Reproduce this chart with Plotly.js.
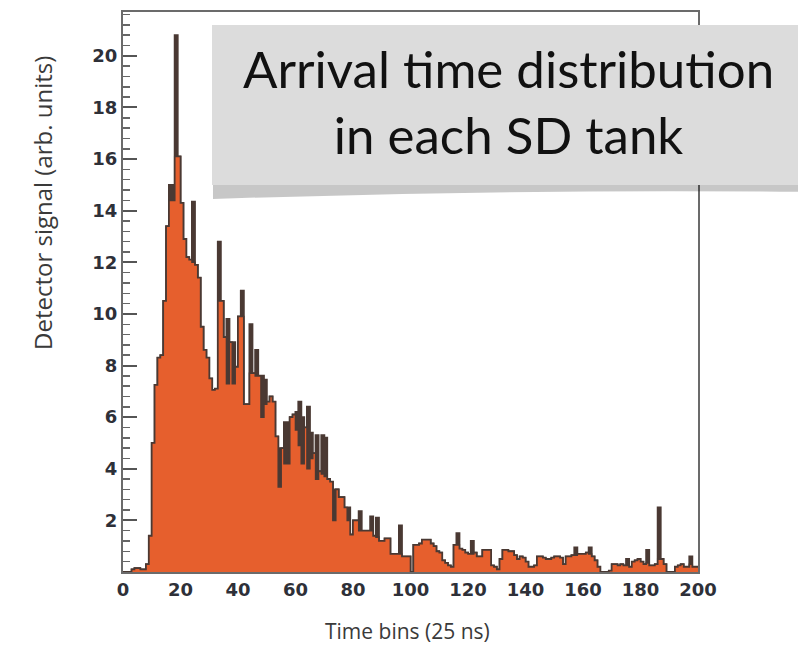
<!DOCTYPE html>
<html>
<head>
<meta charset="utf-8">
<script src="https://cdn.plot.ly/plotly-3.0.1.min.js"></script>
<style>
  html, body { margin: 0; padding: 0; background: #ffffff; }
  #chart { width: 798px; height: 663px; }
</style>
</head>
<body>
<div id="chart"></div>
<script>
// Time bins (left edge of each 25 ns bin)
const timeBins = Array.from({length: 200}, (_, i) => i);

// Filled (orange) histogram, per bin
const fillSignal = [
  0, 0, 0, 0.1, 0.15, 0.15, 0.1, 0.1, 0.3, 1.4,
  5.0, 7.25, 8.3, 8.4, 10.5, 13.4, 14.4, 14.4, 16.1, 16.1,
  14.3, 12.9, 12.2, 12.1, 12.0, 11.9, 11.4, 9.5, 8.6, 8.3,
  7.5, 7.05, 7.1, 10.5, 10.5, 9.1, 7.3, 8.9, 7.3, 7.95,
  9.9, 9.9, 6.5, 6.5, 7.7, 7.7, 7.6, 7.6, 6.0, 6.5,
  6.6, 6.8, 6.6, 5.25, 3.3, 4.8, 4.2, 4.2, 6.0, 6.1,
  5.5, 4.9, 4.2, 5.6, 4.0, 4.4, 4.6, 3.6, 3.9, 3.8,
  3.7, 3.6, 3.5, 2.0, 3.2, 2.9, 2.9, 2.5, 2.0, 1.45,
  2.0, 2.0, 1.6, 1.6, 1.6, 1.6, 1.6, 1.4, 1.35, 1.2,
  1.2, 1.3, 1.3, 0.7, 0.7, 0.7, 0.7, 0.6, 0.6, 0.6,
  0, 1.05, 1.05, 1.1, 1.25, 1.25, 1.25, 1.1, 1.0, 0.8,
  0.75, 0.45, 0.35, 0.25, 0.2, 1.05, 1.05, 0.9, 0.85, 0.75,
  0.7, 0.7, 0.75, 0.6, 0.6, 0.85, 0.85, 0.85, 0.25, 0.2,
  0.1, 0.5, 0.85, 0.85, 0.8, 0.8, 0.65, 0.5, 0.6, 0.55,
  0.4, 0.2, 0.2, 0.25, 0.6, 0.6, 0.55, 0.5, 0.5, 0.55,
  0.6, 0.6, 0.55, 0.3, 0.6, 0.6, 0.65, 0.65, 0.7, 0.7,
  0.7, 0.75, 0.7, 0.6, 0.45, 0.2, 0, 0, 0, 0.05,
  0.3, 0.3, 0.25, 0.3, 0.25, 0.25, 0.2, 0.4, 0.45, 0.5,
  0.4, 0.3, 0.35, 0.25, 0.25, 0.3, 0.5, 0.5, 0.3, 0,
  0, 0, 0.2, 0.25, 0.3, 0.2, 0.2, 0.3, 0.2, 0.2
];

// Outline (dark) histogram, per bin
const outlineSignal = [
  0, 0, 0, 0.1, 0.15, 0.15, 0.1, 0.1, 0.3, 1.4,
  5.0, 7.25, 8.3, 8.4, 10.5, 13.4, 15.0, 15.0, 20.8, 16.1,
  14.3, 12.9, 12.2, 12.1, 14.35, 11.9, 11.4, 9.5, 8.6, 8.3,
  7.5, 7.05, 7.1, 12.8, 10.5, 9.1, 9.8, 8.9, 8.9, 7.95,
  9.9, 10.9, 6.5, 6.5, 9.6, 7.7, 8.6, 7.6, 7.6, 7.45,
  6.6, 6.8, 6.6, 5.25, 4.8, 4.8, 5.8, 5.8, 6.0, 6.1,
  6.2, 6.6, 6.0, 5.6, 6.4, 5.4, 4.6, 5.3, 3.9, 5.3,
  5.2, 3.6, 3.5, 3.2, 3.2, 2.9, 2.9, 2.5, 2.5, 1.45,
  2.0, 2.0, 2.35, 1.6, 1.6, 1.6, 2.15, 1.4, 2.1, 1.2,
  1.2, 1.3, 1.3, 0.7, 0.7, 0.7, 1.8, 0.6, 0.6, 0.6,
  0, 1.05, 1.05, 1.1, 1.25, 1.25, 1.25, 1.1, 1.0, 0.8,
  0.75, 0.45, 0.35, 0.25, 0.2, 1.05, 1.5, 0.9, 0.85, 0.75,
  0.7, 1.2, 0.75, 0.6, 0.6, 0.85, 0.85, 0.85, 0.25, 0.2,
  0.1, 0.5, 0.85, 0.85, 0.8, 0.8, 0.65, 0.5, 0.6, 0.55,
  0.4, 0.2, 0.2, 0.25, 0.6, 0.6, 0.55, 0.5, 0.5, 0.55,
  0.6, 0.6, 0.55, 0.3, 0.6, 0.6, 0.65, 0.95, 0.7, 0.7,
  0.7, 0.75, 0.95, 0.6, 0.45, 0.2, 0, 0, 0, 0.05,
  0.3, 0.3, 0.25, 0.3, 0.25, 0.5, 0.2, 0.4, 0.45, 0.5,
  0.4, 0.3, 0.85, 0.25, 0.25, 0.3, 2.5, 0.5, 0.3, 0,
  0, 0, 0.2, 0.25, 0.3, 0.2, 0.2, 0.6, 0.2, 0.2
];

const xTickVals = [0, 20, 40, 60, 80, 100, 120, 140, 160, 180, 200];
const yTickVals = [2, 4, 6, 8, 10, 12, 14, 16, 18, 20];
// minor y ticks every 0.4
const yMinorTickVals = Array.from({length: 54}, (_, i) => Math.round((i + 1) * 0.4 * 10) / 10);

const xTitle = 'Time bins (25 ns)';
const yTitle = 'Detector signal (arb. units)';
const boxText = 'Arrival time distribution<br>in each SD tank';

// step-histogram helpers: close the last bin at its right edge
const binEdges = timeBins.concat([200]);
const stepFill = fillSignal.concat([fillSignal[fillSignal.length - 1]]);
const stepOutline = outlineSignal.concat([outlineSignal[outlineSignal.length - 1]]);

// geometry (pixel -> paper)
const M = {l: 123, r: 100, t: 12, b: 91};
const W = 798, H = 663;
const PW = W - M.l - M.r, PH = H - M.t - M.b;
const px = v => (v - M.l) / PW;
const py = v => (H - M.b - v) / PH;
const pt = (a, b) => px(a).toFixed(4) + ',' + py(b).toFixed(4);

const dark = '#4a3933';
const orange = '#e65f2d';

const traces = [
  {
    x: binEdges, y: stepOutline, type: 'scatter', mode: 'lines',
    line: {shape: 'hv', color: dark, width: 2},
    fill: 'tozeroy', fillcolor: dark, hoverinfo: 'skip', showlegend: false
  },
  {
    x: binEdges, y: stepFill, type: 'scatter', mode: 'lines',
    line: {shape: 'hv', color: dark, width: 1.6},
    fill: 'tozeroy', fillcolor: orange, hoverinfo: 'skip', showlegend: false
  }
];

const tickFont = {family: 'DejaVu Sans', size: 18, color: '#2e3038', weight: 'bold'};

const shapes = [
  {type: 'path', xref: 'paper', yref: 'paper', layer: 'above', line: {width: 0},
   fillcolor: 'rgba(0,0,0,0.22)',
   path: 'M' + pt(213, 184) + 'L' + pt(810, 184) + 'L' + pt(810, 192) + 'Q' + pt(506, 189) + ' ' + pt(213, 199) + 'Z'},
  {type: 'rect', xref: 'paper', yref: 'paper', layer: 'above',
   x0: px(212), x1: px(820), y0: py(185), y1: py(25), fillcolor: '#dcdcdc', line: {width: 0}}
];

const annotations = [
  {text: boxText, xref: 'paper', yref: 'paper', x: px(508), y: py(101),
   xanchor: 'center', yanchor: 'middle', showarrow: false,
   font: {family: 'Lato', size: 51, color: '#111'}},
  {text: yTitle, xref: 'paper', yref: 'paper', x: px(42), y: py(203),
   xanchor: 'center', yanchor: 'middle', textangle: -90, showarrow: false,
   font: {family: 'Open Sans', size: 24, color: '#3a3a3a'}},
  {text: xTitle, xref: 'paper', yref: 'paper', x: px(407), y: py(631),
   xanchor: 'center', yanchor: 'middle', showarrow: false,
   font: {family: 'Open Sans', size: 21, color: '#3a3a3a'}}
];

const tickStyle = {
  range: [0, 21.7], tickmode: 'array', tickvals: yTickVals, ticktext: yTickVals.map(String),
  ticks: 'inside', ticklen: 14, tickwidth: 2, tickcolor: '#555555',
  minor: {tickmode: 'array', tickvals: yMinorTickVals, ticks: 'inside', ticklen: 7, tickwidth: 1.5, tickcolor: '#666666'},
  showgrid: false, zeroline: false
};

const layout = {
  width: W, height: H, margin: M,
  paper_bgcolor: '#ffffff', plot_bgcolor: '#ffffff', showlegend: false,
  xaxis: {range: [0, 200], tickmode: 'array', tickvals: xTickVals, ticktext: xTickVals.map(String),
          ticks: '', showgrid: false, zeroline: false, showline: true, mirror: true,
          linecolor: '#6b6b6b', linewidth: 2, tickfont: tickFont},
  yaxis: Object.assign({}, tickStyle, {
    minor: Object.assign({}, tickStyle.minor),
    showline: true, mirror: true, linecolor: '#6b6b6b', linewidth: 2, tickfont: tickFont
  }),
  // duplicate tick marks on an overlaid axis (no labels, no line)
  yaxis2: Object.assign({}, tickStyle, {
    minor: Object.assign({}, tickStyle.minor),
    overlaying: 'y', side: 'left', anchor: 'x', showticklabels: false, showline: false
  }),
  shapes: shapes, annotations: annotations
};

Plotly.newPlot('chart', traces, layout, {displayModeBar: false, staticPlot: true}).then(gd => {
  void gd.getBoundingClientRect();
  gd.querySelectorAll('path.ytick, path.y2tick').forEach(p => { void getComputedStyle(p).display; });
  void document.elementFromPoint(126, 57);
});
</script>
</body>
</html>
